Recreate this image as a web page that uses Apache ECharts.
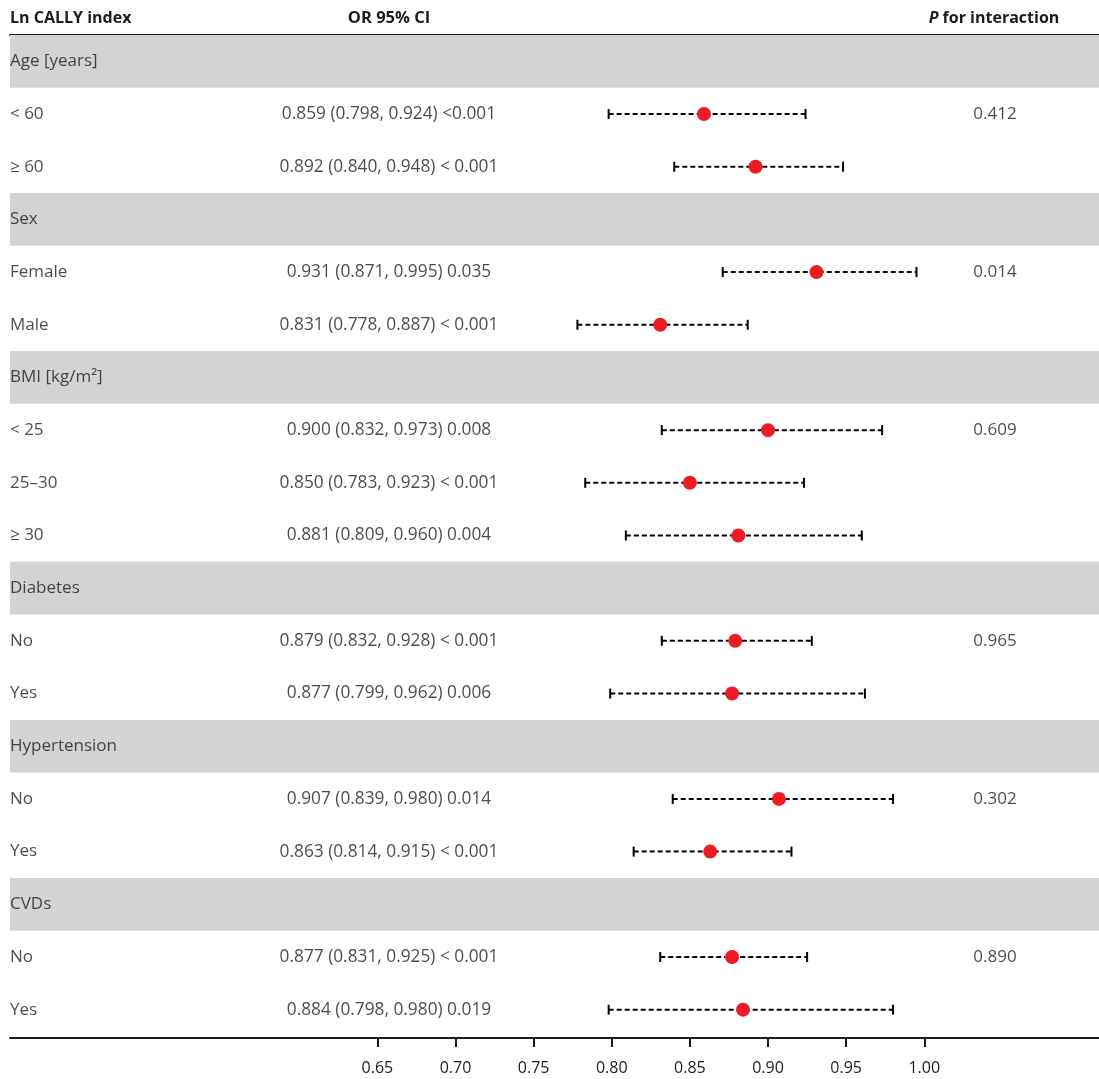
<!DOCTYPE html>
<html>
<head>
<meta charset="utf-8">
<script src="https://cdn.jsdelivr.net/npm/echarts@6/dist/echarts.min.js"></script>
<style>
html,body{margin:0;padding:0;background:#fff;}
#chart{width:1099px;height:1079px;}
</style>
</head>
<body>
<div id="chart"></div>
<script>
const rowLabels = ['Age [years]','< 60','≥ 60','Sex','Female','Male','BMI [kg/m²]','< 25','25–30','≥ 30','Diabetes','No','Yes','Hypertension','No','Yes','CVDs','No','Yes'];
const isGroup = [1,0,0,1,0,0,1,0,0,0,1,0,0,1,0,0,1,0,0];
const orValues = [null,0.859,0.892,null,0.931,0.831,null,0.900,0.850,0.881,null,0.879,0.877,null,0.907,0.863,null,0.877,0.884];
const ciLower  = [null,0.798,0.840,null,0.871,0.778,null,0.832,0.783,0.809,null,0.832,0.799,null,0.839,0.814,null,0.831,0.798];
const ciUpper  = [null,0.924,0.948,null,0.995,0.887,null,0.973,0.923,0.960,null,0.928,0.962,null,0.980,0.915,null,0.925,0.980];
const pValues  = ['','<0.001','< 0.001','','0.035','< 0.001','','0.008','< 0.001','0.004','','< 0.001','0.006','','0.014','< 0.001','','< 0.001','0.019'];
const pInteraction = ['','0.412','','','0.014','','','0.609','','','','0.965','','','0.302','','','0.890',''];
const xTickMin = 0.65, xTickMax = 1.00, xTickStep = 0.05;

const TXT = '#1e1b1c';
const FONT = '"Open Sans", "Noto Sans", sans-serif';
const rowIdx = rowLabels.map((_, i) => i);

const orText = rowIdx.map(i => orValues[i] == null ? '' :
  orValues[i].toFixed(3) + ' (' + ciLower[i].toFixed(3) + ', ' + ciUpper[i].toFixed(3) + ') ' + pValues[i]);

const chart = echarts.init(document.getElementById('chart'), null, {renderer: 'canvas'});

const gridTop = 35, gridBottom = 1079 - 1036;

const option = {
  backgroundColor: '#fff',
  animation: false,
  textStyle: {fontFamily: FONT, color: TXT},
  grid: [
    {left: 10, right: 0, top: gridTop, bottom: gridBottom},
    {left: 377.4, right: 174.7, top: gridTop, bottom: gridBottom}
  ],
  xAxis: [
    {gridIndex: 0, type: 'value', min: 0, max: 1, position: 'bottom', offset: 2,
     axisLine: {show: true, lineStyle: {color: TXT, width: 2}}, axisTick: {show: false}, axisLabel: {show: false}, splitLine: {show: false}},
    {gridIndex: 0, type: 'value', min: 0, max: 1, position: 'top',
     axisLine: {show: true, lineStyle: {color: TXT, width: 2}}, axisTick: {show: false}, axisLabel: {show: false}, splitLine: {show: false}},
    {gridIndex: 1, type: 'value', min: xTickMin, max: xTickMax, interval: xTickStep, position: 'bottom', offset: 2,
     axisLine: {show: false}, axisTick: {show: true, length: 9, lineStyle: {color: TXT, width: 2}},
     axisLabel: {show: true, fontSize: 16, color: TXT, fontFamily: FONT, margin: 22, formatter: v => v.toFixed(2)},
     splitLine: {show: false}}
  ],
  yAxis: [
    {gridIndex: 0, type: 'category', data: rowIdx, inverse: true, show: false},
    {gridIndex: 1, type: 'category', data: rowIdx, inverse: true, show: false}
  ],
  graphic: [
    {type: 'text', x: 10, y: 18, style: {text: 'Ln CALLY index', font: 'bold 16px ' + FONT, fill: TXT, textAlign: 'left', textVerticalAlign: 'middle'}},
    {type: 'text', x: 389, y: 18, style: {text: 'OR 95% CI', font: 'bold 16.5px ' + FONT, fill: TXT, textAlign: 'center', textVerticalAlign: 'middle'}},
    {type: 'text', x: 994, y: 18, style: {text: '{i|P} for interaction', font: 'bold 16px ' + FONT, fill: TXT, textAlign: 'center', textVerticalAlign: 'middle',
      rich: {i: {fontStyle: 'italic', fontWeight: 'bold', fontSize: 16, fontFamily: FONT, fill: TXT}}}}
  ],
  series: [
    {
      type: 'bar', xAxisIndex: 0, yAxisIndex: 0,
      data: isGroup.map(g => g ? 1 : '-'),
      barWidth: '100%', barCategoryGap: 0,
      itemStyle: {color: '#d1d3d4'},
      silent: true, z: 1
    },
    {
      type: 'scatter', xAxisIndex: 0, yAxisIndex: 0, symbolSize: 0, silent: true, z: 5,
      data: rowIdx.map(i => [0, i]),
      label: {show: true, position: 'right', distance: 0, fontSize: 17, color: TXT, fontFamily: FONT,
        formatter: p => rowLabels[p.dataIndex]}
    },
    {
      type: 'scatter', xAxisIndex: 0, yAxisIndex: 0, symbolSize: 0, silent: true, z: 5,
      data: rowIdx.filter(i => orText[i]).map(i => [0.348, i]),
      label: {show: true, position: 'inside', fontSize: 17.3, color: TXT, fontFamily: FONT,
        formatter: p => orText[p.value[1]]}
    },
    {
      type: 'scatter', xAxisIndex: 0, yAxisIndex: 0, symbolSize: 0, silent: true, z: 5,
      data: rowIdx.filter(i => pInteraction[i]).map(i => [0.9045, i]),
      label: {show: true, position: 'inside', fontSize: 17, color: TXT, fontFamily: FONT,
        formatter: p => pInteraction[p.value[1]]}
    },
    {
      type: 'custom', xAxisIndex: 2, yAxisIndex: 1, z: 6, silent: true,
      data: rowIdx.filter(i => orValues[i] != null).map(i => [ciLower[i], ciUpper[i], i]),
      encode: {x: [0, 1], y: 2},
      renderItem: function (params, api) {
        const a = api.coord([api.value(0), api.value(2)]);
        const b = api.coord([api.value(1), api.value(2)]);
        const y = a[1];
        const h = 5;
        const st = {stroke: '#000', lineWidth: 2};
        return {
          type: 'group',
          children: [
            {type: 'line', shape: {x1: a[0], y1: y, x2: b[0], y2: y}, style: {stroke: '#000', lineWidth: 2, lineDash: [5, 3]}},
            {type: 'line', shape: {x1: a[0], y1: y - h, x2: a[0], y2: y + h}, style: st},
            {type: 'line', shape: {x1: b[0], y1: y - h, x2: b[0], y2: y + h}, style: st}
          ]
        };
      }
    },
    {
      type: 'scatter', xAxisIndex: 2, yAxisIndex: 1, z: 7, silent: true,
      symbol: 'circle', symbolSize: 14,
      itemStyle: {color: '#ed1c24', opacity: 1},
      data: rowIdx.filter(i => orValues[i] != null).map(i => [orValues[i], i])
    }
  ]
};
chart.setOption(option);
</script>
</body>
</html>
